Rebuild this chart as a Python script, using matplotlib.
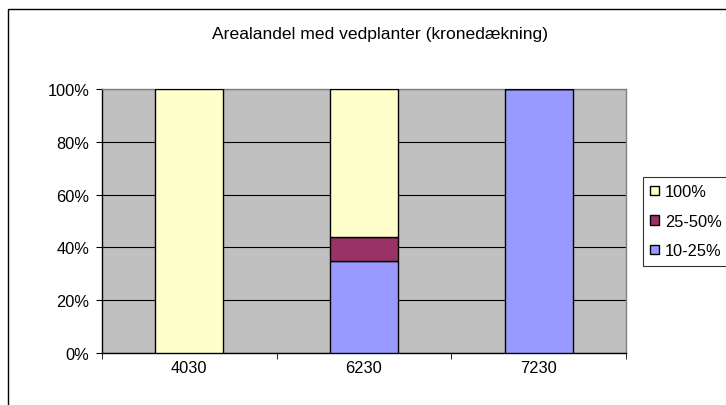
import matplotlib
matplotlib.use("Agg")
import matplotlib.pyplot as plt
from matplotlib.patches import Rectangle
import numpy as np

plt.rcParams['font.family'] = ['Liberation Sans', 'DejaVu Sans']

categories = ["4030", "6230", "7230"]
series_names = ["10-25%", "25-50%", "100%"]
v_10_25 = [0, 35, 100]
v_25_50 = [0, 9, 0]
v_100 = [100, 56, 0]
colors = ["#9999FF", "#993366", "#FFFFCC"]
y_ticks = [0, 20, 40, 60, 80, 100]

W, H = 726, 406
fig = plt.figure(figsize=(W/100, H/100), dpi=100)
fig.patch.set_facecolor("white")

FS = 11.8

# outer chart border
fig.add_artist(Rectangle((8/W, -0.05), 1.1, 1 - 10/H + 0.05, transform=fig.transFigure,
                         fill=False, edgecolor="black", lw=1.0))

left, right, top, bottom = 102, 626, 90, 354
ax = fig.add_axes([left/W, 1 - bottom/H, (right-left)/W, (bottom-top)/H])
ax.set_facecolor("#C0C0C0")

x = np.arange(len(categories))
bw = 0.39
vals = [v_10_25, v_25_50, v_100]
base = np.zeros(len(categories))
bars = []
for name, v, c in zip(series_names, vals, colors):
    b = ax.bar(x, v, bw, bottom=base, color=c, edgecolor="black", linewidth=1.0,
               label=name, zorder=3)
    bars.append(b)
    base = base + np.array(v)

ax.set_xlim(-0.5, len(categories) - 0.5)
ax.set_ylim(0, 100)
ax.set_yticks(y_ticks)
ax.set_yticklabels([f"{t}%" for t in y_ticks], fontsize=FS)
ax.yaxis.grid(True, color="black", lw=0.8, zorder=1)
ax.set_xticks(x)
ax.set_xticklabels(categories, fontsize=FS)
ax.tick_params(axis='x', length=0, pad=5)
ax.set_xticks(np.arange(-0.5, len(categories)), minor=True)
ax.tick_params(axis='x', which='minor', length=4, direction='out', color='black')
ax.tick_params(axis='y', length=4, direction='out', pad=5)

for s in ["top", "right"]:
    ax.spines[s].set_color("#808080")
    ax.spines[s].set_linewidth(1.0)
for s in ["left", "bottom"]:
    ax.spines[s].set_color("black")
    ax.spines[s].set_linewidth(1.0)

fig.text(380/W, 1 - 34/H, "Arealandel med vedplanter (kronedækning)",
         ha="center", va="center", fontsize=12.6)

handles = [bars[2], bars[1], bars[0]]
labels = ["100%", "25-50%", "10-25%"]
leg = fig.legend(handles, labels, loc="upper left",
                 bbox_to_anchor=(643/W, 1 - 178/H), fontsize=FS,
                 frameon=True, fancybox=False, edgecolor="black",
                 handlelength=0.5, handleheight=0.5, handletextpad=0.4,
                 labelspacing=0.88, borderpad=0.45, borderaxespad=0)
leg.get_frame().set_linewidth(0.8)

fig.savefig("out.png", dpi=100)
